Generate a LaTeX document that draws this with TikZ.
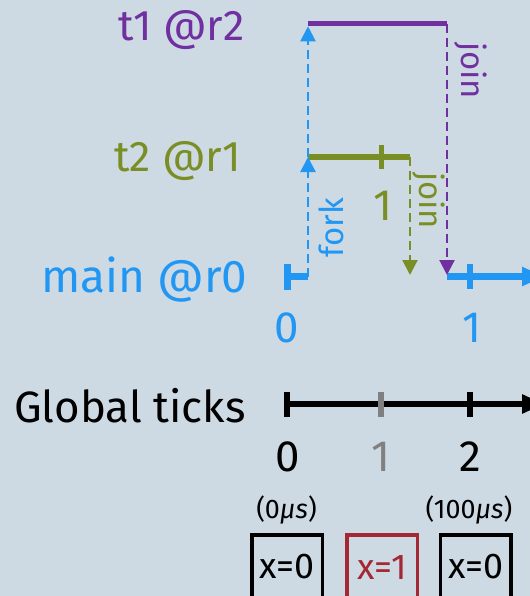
\documentclass[tikz,border=0pt]{standalone}
\usepackage{fontspec}
\setmainfont{Fira Sans}
\usetikzlibrary{arrows.meta,positioning}
\definecolor{bgblue}{RGB}{206,218,227}
\definecolor{rblue}{RGB}{33,150,243}
\definecolor{rpurple}{RGB}{112,48,160}
\definecolor{rgreen}{RGB}{122,142,38}
\definecolor{rred}{RGB}{164,40,52}
\definecolor{rgray}{RGB}{128,128,128}
\newcommand{\threadfont}{\fontsize{43}{43}\selectfont}
\newcommand{\bigthreadfont}{\fontsize{46}{46}\selectfont}
\newcommand{\tickfont}{\fontsize{44}{44}\selectfont}
\newcommand{\syncfont}{\fontsize{33}{33}\selectfont}
\newcommand{\timefont}{\fontsize{27}{27}\selectfont}
\newcommand{\boxfont}{\fontsize{36}{36}\selectfont}
\tikzstyle{thread} = [line width=5.5bp]
\tikzstyle{mainline} = [line width=6.5bp]
\tikzstyle{tickbar} = [line width=5.5bp]
\tikzstyle{sync} = [line width=2.2bp, dash pattern=on 9bp off 5bp,
    -{Triangle[length=15bp,width=15bp]}]
\tikzstyle{synclabel} = [font=\syncfont, rotate=-90, anchor=south, inner sep=6bp]
\tikzstyle{ticklabel} = [font=\tickfont, anchor=base, inner sep=0pt]
\tikzstyle{statebox} = [draw, line width=3.6bp, minimum width=70.6bp,
    minimum height=64.6bp, inner sep=0pt, font=\boxfont]

\begin{document}
\begin{tikzpicture}[x=1bp, y=-1bp, >=Triangle]
\fill[bgblue] (0,0) rectangle (530,596);
\useasboundingbox (0,0) rectangle (530,596);

% thread names
\node[anchor=base east, text=rpurple, font=\threadfont] (t1lbl) at (248,40.5) {t1 @r2};
\node[anchor=base east, text=rgreen, font=\threadfont] (t2lbl) at (245,172) {t2 @r1};
\node[anchor=base east, text=rblue, font=\bigthreadfont] (mainlbl) at (251,292) {main @r0};
\node[anchor=base east, font=\tickfont] (globallbl) at (249,422) {Global ticks};

% end points of the thread lines
\coordinate (t1s) at (308,23.7);
\coordinate (t1e) at (447,23.7);
\coordinate (t2s) at (308,157);
\coordinate (t2tick) at (381.5,157);
\coordinate (t2e) at (410,157);
\coordinate (m0) at (284,276.5);
\coordinate (mfork) at (308,276.5);
\coordinate (mgap) at (410,276.5);
\coordinate (mjoin) at (447,276.5);
\coordinate (mtick) at (470,276.5);
\coordinate (mend) at (544,276.5);

% threads
\draw[thread, rpurple] (t1s) -- (t1e);
\draw[thread, rgreen] (t2s) -- (t2e);
\draw[tickbar, rgreen] (t2tick) ++(0,-12) -- ++(0,24);
\draw[mainline, rblue, {Bar[width=26bp]}-] (m0) -- (mfork);
\draw[mainline, rblue, -{Triangle[length=22bp,width=18bp]}] (mjoin) -- (mend);
\draw[tickbar, rblue] (mtick) ++(0,-12.5) -- ++(0,25);

% fork and joins
\draw[sync, rblue] (mfork) -- (t2s) node[pos=0.41, font=\syncfont, rotate=90, anchor=north, inner sep=10bp] (forklbl) {fork};
\draw[sync, rblue, shorten >=2.6bp] (t2s) -- (t1s);
\draw[sync, rpurple, shorten >=1.5bp] (t1e) -- (mjoin) node[synclabel, pos=0.186] (join1lbl) {join};
\draw[sync, rgreen, shorten >=1.5bp] (t2e) -- (mgap) node[synclabel, pos=0.365, inner sep=1bp] (join2lbl) {join};

% local tick numbers
\node[ticklabel, text=rgreen] (t2one) at (383,220.6) {1};
\node[ticklabel, text=rblue] (mzero) at (286.7,342) {0};
\node[ticklabel, text=rblue] (mone) at (471.6,342) {1};

% global clock
\coordinate (g0) at (284,404);
\coordinate (g1) at (381,404);
\coordinate (g2) at (470,404);
\coordinate (gend) at (544,404);
\draw[line width=5.5bp, {Bar[width=25bp]}-{Triangle[length=22bp,width=18bp]}] (g0) -- (gend);
\draw[tickbar, rgray] (g1) ++(0,-12.5) -- ++(0,25);
\draw[tickbar] (g2) ++(0,-12.5) -- ++(0,25);

\node[ticklabel] (gzero) at (287.4,471.4) {0};
\node[ticklabel, text=rgray] (gone) at (381,471.4) {1};
\node[ticklabel] (gtwo) at (470,471.4) {2};
\node[font=\timefont, anchor=base, inner sep=0pt] (gzerotime) at (286.5,518) {(0\textit{μs})};
\node[font=\timefont, anchor=base, inner sep=0pt] (gtwotime) at (469,518) {(100\textit{μs})};

% value of x at each tick
\node[statebox] (xzero) at (287,567) {x=0};
\node[statebox, draw=rred, text=rred] (xone) at (382,567) {x=1};
\node[statebox] (xtwo) at (475.6,567) {x=0};
\end{tikzpicture}
\end{document}
